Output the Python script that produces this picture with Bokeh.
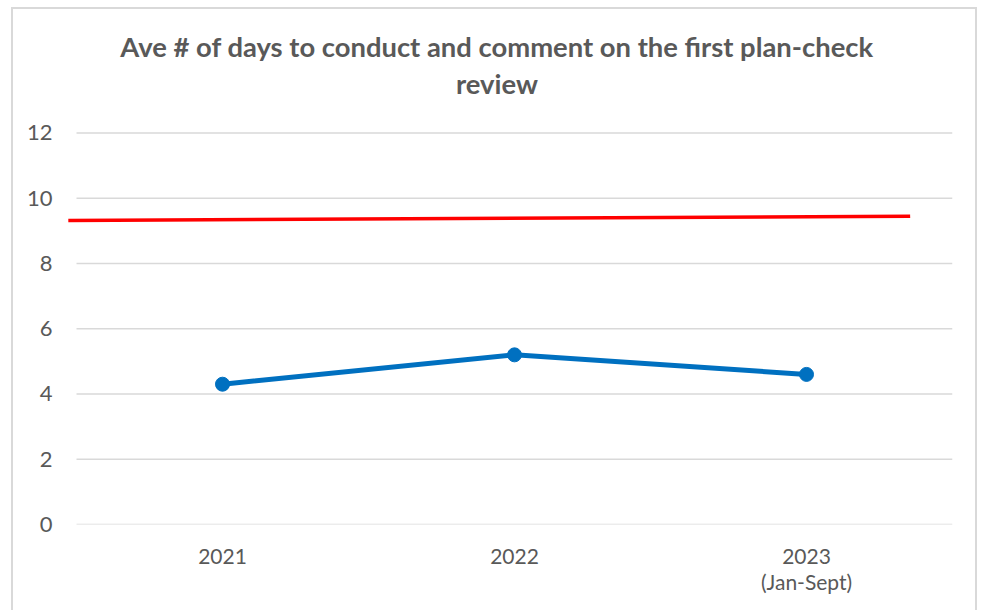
from bokeh.plotting import figure
from bokeh.models import Range1d, FixedTicker, ColumnDataSource, Label
from bokeh.embed import file_html
from bokeh.resources import INLINE

# ---- data ----
categories = ["2021", "2022", "2023\n(Jan-Sept)"]
avg_days = [4.3, 5.2, 4.6]
target_x = [-0.028, 2.855]
target_y = [9.32, 9.45]
y_ticks = [0, 2, 4, 6, 8, 10, 12]
title_lines = ["Ave # of days to conduct and comment on the first plan-check", "review"]

cat_pos = [i + 0.5 for i in range(len(categories))]
src = ColumnDataSource(dict(x=cat_pos, y=avg_days))
n_cat = len(categories)

# the plot area also holds the title band above the value scale (0-12)
p = figure(width=966, height=603, output_backend="svg", toolbar_location=None,
           x_range=Range1d(-0.048, 3.0), y_range=Range1d(0, 15.785),
           min_border_left=49, min_border_right=27, min_border_top=0, min_border_bottom=88)
p.styles = {"border-left": "2px solid #d9d9d9", "border-top": "2px solid #d9d9d9",
            "border-right": "2px solid #d9d9d9", "box-sizing": "border-box",
            "transform": "translate(11px, 7px)"}

# title (two centred lines)
title_x = 1.44
title_baselines = [14.64, 13.51]
for txt, yb in zip(title_lines, title_baselines):
    p.add_layout(Label(x=title_x, y=yb, text=txt, text_align="center",
                       text_baseline="alphabetic", text_font="Lato",
                       text_font_style="bold", text_font_size="27.4px",
                       text_color="#595959"))

p.outline_line_color = None
p.background_fill_color = "white"
p.border_fill_color = "white"

# grid (drawn across the category extent only)
p.xgrid.visible = False
p.ygrid.visible = False
p.segment(x0=[0] * len(y_ticks), x1=[n_cat] * len(y_ticks), y0=y_ticks, y1=y_ticks,
          line_color="#d9d9d9", line_width=1.3, level="underlay")

# axes
p.yaxis.ticker = FixedTicker(ticks=y_ticks)
p.xaxis.ticker = FixedTicker(ticks=cat_pos)
p.xaxis.major_label_overrides = {pos: c for pos, c in zip(cat_pos, categories)}
for ax in (p.xaxis[0], p.yaxis[0]):
    ax.axis_line_color = None
    ax.major_tick_line_color = None
    ax.minor_tick_line_color = None
    ax.major_tick_out = 0
    ax.major_tick_in = 0
    ax.minor_tick_out = 0
    ax.major_label_text_font = "Lato"
    ax.major_label_text_font_size = "21px"
    ax.major_label_text_color = "#595959"
p.yaxis.major_label_text_font_size = "22px"
p.yaxis.major_label_standoff = 10
p.xaxis.major_label_standoff = 18
p.xaxis.major_label_text_line_height = 1.05

# series
p.line(target_x, target_y, line_color="#ff0000", line_width=3.5)
p.line("x", "y", source=src, line_color="#0070c0", line_width=5)
p.scatter("x", "y", source=src, size=14, fill_color="#0070c0", line_color="#0070c0")

open("out.html", "w").write(file_html(p, INLINE))
